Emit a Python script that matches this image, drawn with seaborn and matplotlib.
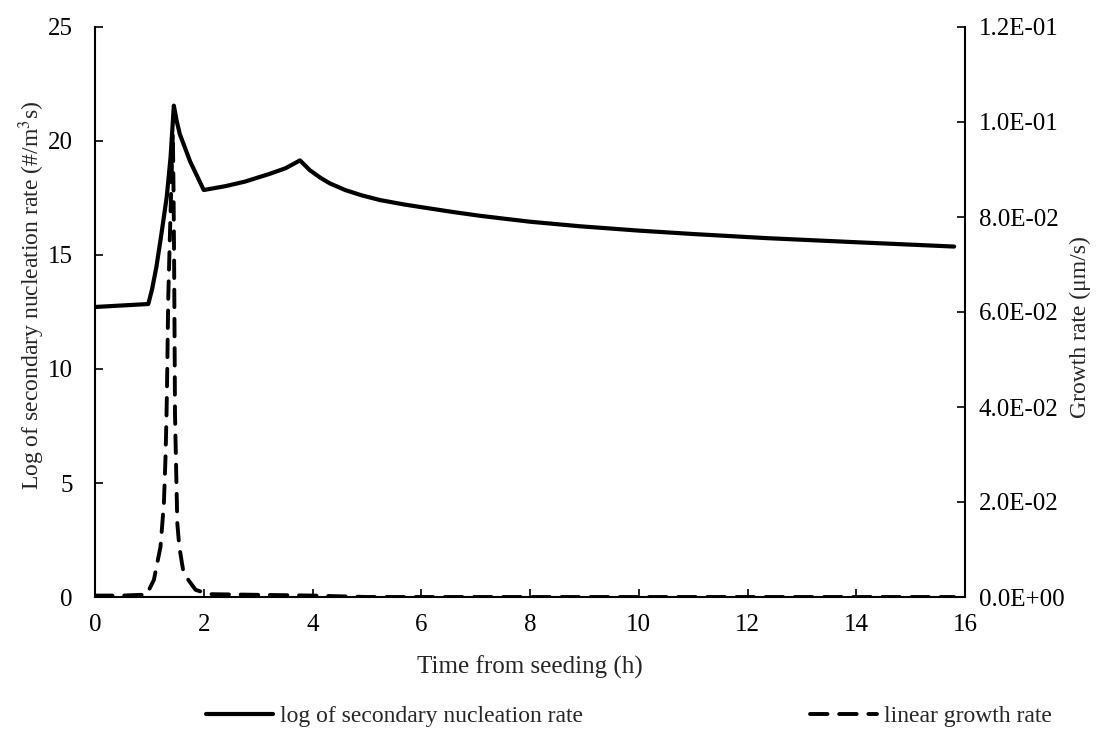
import matplotlib
matplotlib.use("Agg")
import matplotlib.pyplot as plt
import seaborn as sns
import pandas as pd
from matplotlib.ticker import FuncFormatter

# Data
nuc_time = [0.0, 0.98, 1.05, 1.13, 1.22, 1.32, 1.39, 1.45, 1.50, 1.56, 1.75, 2.0,
            2.4, 2.76, 3.2, 3.5, 3.77, 3.95, 4.15, 4.32, 4.6, 4.9, 5.24, 5.7, 6.16,
            6.6, 7.08, 7.5, 8.0, 8.92, 10.0, 11.0, 12.35, 14.0, 15.8]
nuc_rate = [12.72, 12.85, 13.5, 14.49, 15.9, 17.56, 19.3, 21.55, 20.9, 20.3, 19.1, 17.85,
            18.02, 18.22, 18.55, 18.8, 19.15, 18.72, 18.38, 18.14, 17.85, 17.62, 17.41, 17.21, 17.04,
            16.88, 16.72, 16.6, 16.46, 16.26, 16.07, 15.92, 15.74, 15.56, 15.37]

gr_time = [0.0, 0.5, 0.95, 1.083, 1.205, 1.267, 1.297, 1.316, 1.328, 1.346, 1.377,
           1.408, 1.432, 1.445, 1.455, 1.462, 1.471, 1.49, 1.514, 1.55, 1.62,
           1.716, 1.85, 2.1, 4.0, 5.0, 15.8]
gr_rate = [0.0003, 0.0003, 0.0005, 0.0036, 0.0106, 0.0197, 0.0295, 0.0387, 0.0471,
           0.0625, 0.0759, 0.0885, 0.0975, 0.085, 0.0709, 0.0576, 0.0387, 0.0281,
           0.0155, 0.0106, 0.0057, 0.0036, 0.0015, 0.0006, 0.0003, 0.0, 0.0]

x_ticks = [0, 2, 4, 6, 8, 10, 12, 14, 16]
left_ticks = [0, 5, 10, 15, 20, 25]
right_ticks = [0.0, 0.02, 0.04, 0.06, 0.08, 0.10, 0.12]

sns.set_theme(style="white")
plt.rcParams['font.family'] = ['Liberation Serif', 'DejaVu Serif']
plt.rcParams['mathtext.fontset'] = 'stix'

fig = plt.figure(figsize=(11.16, 7.48), dpi=100)
ax = fig.add_axes([95/1116, (748-597)/748, 870/1116, 570/748])
ax2 = ax.twinx()

df1 = pd.DataFrame({"t": nuc_time, "v": nuc_rate})
df2 = pd.DataFrame({"t": gr_time, "v": gr_rate})

sns.lineplot(data=df1, x="t", y="v", ax=ax, color="black", lw=3.0,
             solid_joinstyle="round", solid_capstyle="round",
             label="log of secondary nucleation rate", legend=False)
sns.lineplot(data=df2, x="t", y="v", ax=ax2, color="black", lw=2.8,
             dashes=False, legend=False)
l2 = ax2.get_lines()[0]
l2.set_dashes((4.5, 3.0))
l2.set_dash_capstyle("round")
l2.set_label("linear growth rate")

ax.set_xlim(0, 16)
ax.set_ylim(0, 25)
ax2.set_ylim(0, 0.12)
ax.set_xticks(x_ticks)
ax.set_yticks(left_ticks)
ax2.set_yticks(right_ticks)
ax2.yaxis.set_major_formatter(FuncFormatter(lambda v, p: f"{v:.1E}"))

fs = 18
ax.set_xlabel("Time from seeding (h)", fontsize=fs, labelpad=14)
ax.set_ylabel("Log of secondary nucleation rate (#/m$^3$s)", fontsize=17)
ax2.set_ylabel("Growth rate (μm/s)", fontsize=17)
ax.yaxis.set_label_coords(-0.055, 0.53)
ax2.yaxis.set_label_coords(1.12, 0.474)

ax.tick_params(axis="x", direction="in", length=6, width=1.2, labelsize=fs, pad=12, colors="black", bottom=True)
ax.tick_params(axis="y", direction="in", length=6, width=1.2, labelsize=fs, pad=16, colors="black", left=True)
ax2.tick_params(axis="y", direction="in", length=6, width=1.2, labelsize=fs, pad=10, colors="black", right=True)

for a in (ax, ax2):
    a.spines["top"].set_visible(False)
    for s in ("left", "bottom", "right"):
        a.spines[s].set_color("black")
        a.spines[s].set_linewidth(1.5)
ax.spines["right"].set_visible(False)
ax2.spines["left"].set_visible(False)
ax2.spines["bottom"].set_visible(False)
ax.grid(False)
ax2.grid(False)

handles = [ax.get_lines()[0], l2]
fig.legend(handles, [h.get_label() for h in handles], loc="center",
           bbox_to_anchor=(629/1116, 1 - 716/748), ncol=2, frameon=False,
           fontsize=17, handlelength=2.85, handletextpad=0.3, columnspacing=9.6)

fig.savefig("out.png", dpi=100)
